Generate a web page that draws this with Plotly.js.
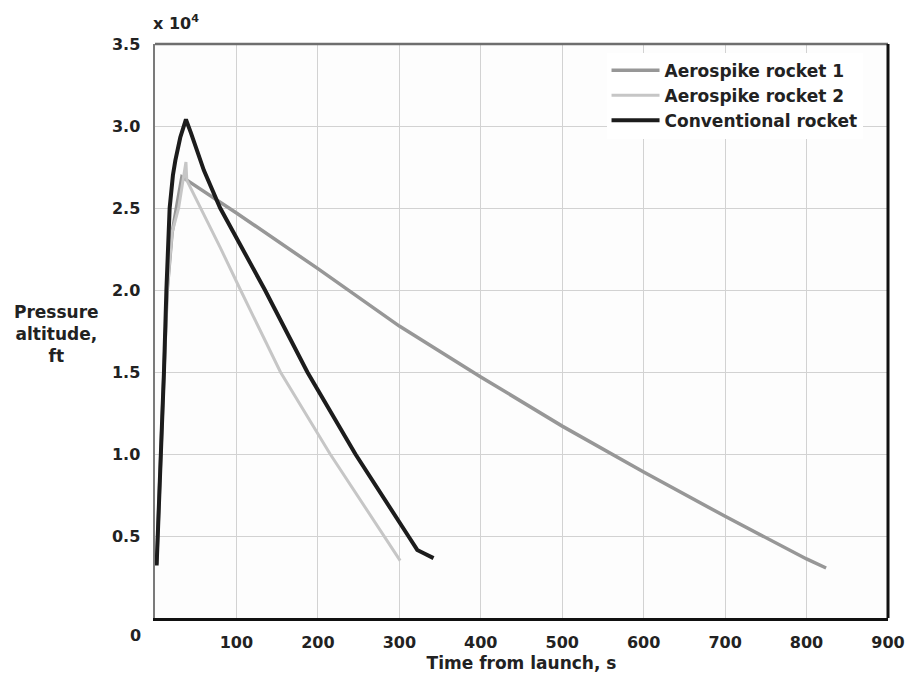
<!DOCTYPE html>
<html>
<head>
<meta charset="utf-8">
<script src="https://cdn.plot.ly/plotly-3.0.1.min.js"></script>
<style>html,body{margin:0;padding:0;background:#fff;}#chart{width:909px;height:684px;}</style>
</head>
<body>
<div id="chart"></div>
<script>
// Series: time from launch (s) and pressure altitude (ft)
const seriesNames = ["Aerospike rocket 1", "Aerospike rocket 2", "Conventional rocket"];

const timeA1 = [2, 5, 7, 11, 15, 21, 28, 33, 100, 200, 300, 400, 500, 600, 700, 800, 824];
const altA1  = [3300, 7500, 10000, 15000, 20000, 23500, 25500, 26900, 24700, 21300, 17800, 14700, 11700, 8900, 6200, 3600, 3050];

const timeA2 = [2, 5, 7, 11, 15, 21, 29, 35, 38, 39, 45, 57, 80, 105, 154, 215, 281, 301];
const altA2  = [3300, 7500, 10000, 15000, 20000, 23500, 25000, 26800, 27800, 26700, 26100, 25000, 22600, 20000, 15000, 10000, 5000, 3500];

const timeConv = [2, 5, 7, 11, 14, 18, 22, 25, 31, 38, 44, 60, 80, 135, 187, 246, 311, 322, 330, 342];
const altConv  = [3200, 7000, 10000, 15000, 20000, 25000, 27000, 27900, 29300, 30400, 29600, 27300, 25000, 20000, 15000, 10000, 5000, 4150, 3950, 3650];

const xTickVals = [100, 200, 300, 400, 500, 600, 700, 800, 900];
const xTickText = ["100", "200", "300", "400", "500", "600", "700", "800", "900"];
const yTickVals = [5000, 10000, 15000, 20000, 25000, 30000, 35000];
const yTickText = ["0.5", "1.0", "1.5", "2.0", "2.5", "3.0", "3.5"];

const FONT = "DejaVu Sans";
const lineColors = ["#979797", "#c6c6c6", "#1c1c1c"];
const lineWidths = [3.5, 3, 4];

const xs = [timeA1, timeA2, timeConv];
const ys = [altA1, altA2, altConv];
const traces = xs.map((x, i) => ({
  type: "scatter", mode: "lines", name: seriesNames[i],
  x: x, y: ys[i],
  line: {color: lineColors[i], width: lineWidths[i]}
}));

const layout = {
  width: 909, height: 684,
  margin: {l: 155, r: 21, t: 44, b: 66, pad: 0},
  paper_bgcolor: "#ffffff", plot_bgcolor: "#fdfdfd",
  font: {family: FONT, size: 16, color: "#222", weight: "bold"},
  showlegend: true,
  legend: {
    x: 0.616, xanchor: "left", y: 0.985, yanchor: "top",
    itemwidth: 48,
    bgcolor: "#ffffff", borderwidth: 0,
    font: {family: FONT, size: 17, color: "#222", weight: "bold"}
  },
  xaxis: {
    range: [0, 900], tickvals: xTickVals, ticktext: xTickText,
    showgrid: true, gridcolor: "#d2d2d2", gridwidth: 1,
    zeroline: false, showline: true, linecolor: "#111", linewidth: 3,
    ticks: "", ticklabelstandoff: 8, automargin: false,
    tickfont: {family: FONT, size: 16, color: "#222", weight: "bold"},
    title: {text: "Time from launch, s", standoff: 6,
      font: {family: FONT, size: 17, color: "#222", weight: "bold"}}
  },
  yaxis: {
    range: [0, 35000], tickvals: yTickVals, ticktext: yTickText,
    showgrid: true, gridcolor: "#d2d2d2", gridwidth: 1,
    zeroline: false, showline: true, linecolor: "#7a7a7a", linewidth: 2.5,
    ticks: "", ticklabelstandoff: 9, automargin: false,
    tickfont: {family: FONT, size: 16, color: "#222", weight: "bold"}
  },
  shapes: [
    {type: "line", xref: "paper", yref: "paper", x0: 0, x1: 1, y0: 1, y1: 1,
      line: {color: "#6e6e6e", width: 2.5}},
    {type: "line", xref: "paper", yref: "paper", x0: 1, x1: 1, y0: 0, y1: 1,
      line: {color: "#111", width: 3}}
  ],
  annotations: [
    {xref: "paper", yref: "paper", x: -0.005, y: 1.015, xanchor: "left", yanchor: "bottom",
      text: "x 10<sup>4</sup>", showarrow: false,
      font: {family: FONT, size: 16, color: "#222", weight: "bold"}},
    {xref: "paper", yref: "paper", x: -0.026, y: -0.031, xanchor: "center", yanchor: "middle",
      text: "0", showarrow: false,
      font: {family: FONT, size: 16, color: "#222", weight: "bold"}},
    {xref: "paper", yref: "paper", x: -0.135, y: 0.495, xanchor: "center", yanchor: "middle",
      text: "Pressure<br>altitude,<br>ft", showarrow: false, align: "center",
      font: {family: FONT, size: 17, color: "#222", weight: "bold"}}
  ]
};

Plotly.newPlot("chart", traces, layout, {displayModeBar: false, staticPlot: true});
</script>
</body>
</html>
